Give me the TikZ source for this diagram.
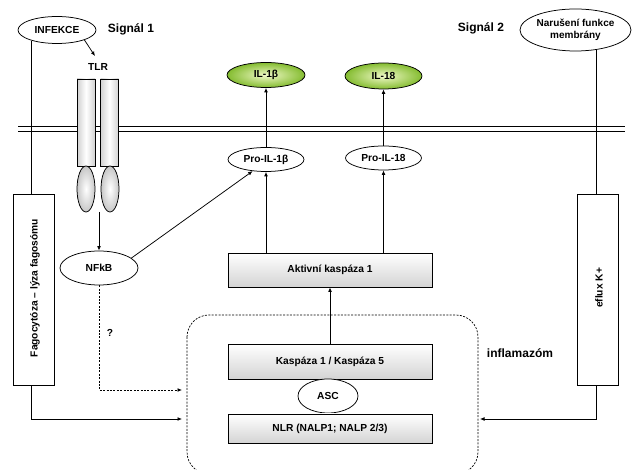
\documentclass[tikz,border=0pt]{standalone}
\usepackage{fontspec}
\setmainfont{Liberation Sans}
\usetikzlibrary{shapes.geometric,arrows.meta,calc}
\definecolor{greenin}{HTML}{F0F9C8}
\definecolor{greenout}{HTML}{84BC30}
\begin{document}
\begin{tikzpicture}[x=1pt,y=-1pt,
  font=\fontsize{10.2}{12}\selectfont\bfseries,
  conn/.style={draw=black, line width=0.75pt},
  arr/.style={conn,-{Latex[length=4.5pt,width=3.8pt]}},
  oval/.style={ellipse, draw, line width=0.75pt, inner sep=0pt, fill=white},
  greenoval/.style={oval, inner color=greenin, outer color=greenout},
  graybox/.style={rectangle, draw, line width=0.75pt, top color=white, bottom color=black!17, inner sep=0pt, minimum width=204pt},
  sidebox/.style={rectangle, draw, line width=0.75pt, fill=white, minimum width=41pt, minimum height=191pt, inner sep=0pt},
  tlrbar/.style={rectangle, draw, line width=0.75pt, left color=black!18, right color=black!18, middle color=white, minimum width=18pt, minimum height=87pt, inner sep=0pt},
  tlrfoot/.style={ellipse, draw, line width=0.75pt, inner color=white, outer color=black!22, minimum width=18pt, minimum height=46pt, inner sep=0pt},
  bigtext/.style={font=\fontsize{12}{14}\selectfont\bfseries}]
\path[use as bounding box] (0,0) rectangle (633,470);

% membrane
\coordinate (m1a) at (18,126); \coordinate (m1b) at (625,126);
\coordinate (m2a) at (18,131); \coordinate (m2b) at (625,131);
\draw[conn] (m1a) -- (m1b);
\draw[conn] (m2a) -- (m2b);

% top ellipses and labels
\node[oval, minimum width=78pt, minimum height=27pt] (infekce) at (57,30) {INFEKCE};
\node[oval, minimum width=111pt, minimum height=42pt, align=center, font=\fontsize{10}{12.5}\selectfont\bfseries] (narus) at (575.5,30) {Narušení funkce\\membrány};
\node[bigtext] (sig1) at (131,29) {Signál 1};
\node[bigtext] (sig2) at (481,28) {Signál 2};
\node (tlr) at (98,67) {TLR};

% TLR receptor
\node[tlrbar] (bar1) at (86,122.5) {};
\node[tlrbar] (bar2) at (109.5,122.5) {};
\node[tlrfoot] (foot1) at (86,189) {};
\node[tlrfoot] (foot2) at (110,189) {};

% side boxes
\node[sidebox] (fag) at (33.5,289.5) {};
\node[rotate=90] (fagt) at (35,288) {Fagocytóza -- lýza fagosómu};
\node[sidebox] (eflux) at (597.5,289.5) {};
\node[rotate=90] (efluxt) at (599,288) {eflux K+};

% cytokines
\node[greenoval, minimum width=78pt, minimum height=25pt] (il1) at (266,75) {IL-1β};
\node[greenoval, minimum width=77pt, minimum height=26pt] (il18) at (383.5,76) {IL-18};
\node[oval, minimum width=76pt, minimum height=24pt] (pro1) at (266,159.5) {Pro-IL-1β};
\node[oval, minimum width=76pt, minimum height=24pt] (pro18) at (383.5,158) {Pro-IL-18};

\node[oval, minimum width=78pt, minimum height=34pt] (nfkb) at (99,268) {NFkB};
\node (q) at (110,333) {?};

% caspase boxes
\node[graybox, minimum height=34pt] (aktiv) at (330,270) {Aktivní kaspáza 1};
\node[graybox, minimum height=35pt] (kasp) at (330,361.5) {Kaspáza 1 / Kaspáza 5};
\node[oval, minimum width=60pt, minimum height=34pt] (asc) at (328,396) {ASC};
\node[graybox, minimum height=29pt] (nlr) at (330,428.5) {NLR (NALP1; NALP 2/3)};

% inflammasome
\begin{scope}
\clip (0,0) rectangle (633,470);
\draw[line width=0.7pt, dash pattern=on 2pt off 1.4pt, rounded corners=22pt] (187,315) rectangle (478,474);
\end{scope}
\node[bigtext] (infl) at (520,353) {inflamazóm};

% connectors
\coordinate (infL) at (31,41);
\coordinate (narB) at (596,49.5);
\coordinate (tlrtip) at (95,56);
\coordinate (tlrB) at (99,212);
\coordinate (inD) at (182,390);
\coordinate (inL) at (182,419);
\coordinate (inR) at (480,419);

\draw[arr] (infekce.-20) -- (tlrtip);
\draw[conn] (infL) -- (infL |- fag.north);
\draw[arr] (infL |- fag.south) |- (inL);
\draw[conn] (narB) -- (narB |- eflux.north);
\draw[arr] (narB |- eflux.south) |- (inR);
\draw[arr] (tlrB) -- (nfkb.north);
\draw[arr, dash pattern=on 2pt off 1.4pt] (nfkb.south) |- (inD);
\draw[arr] (nfkb.17) -- (pro1.221);
\draw[arr] (pro1) -- (il1);
\draw[arr] (pro18) -- (il18);
\draw[arr] (aktiv.north -| pro1) -- (pro1.south);
\draw[arr] (aktiv.north -| pro18) -- (pro18.south);
\draw[arr] (kasp) -- (aktiv);
\end{tikzpicture}
\end{document}
